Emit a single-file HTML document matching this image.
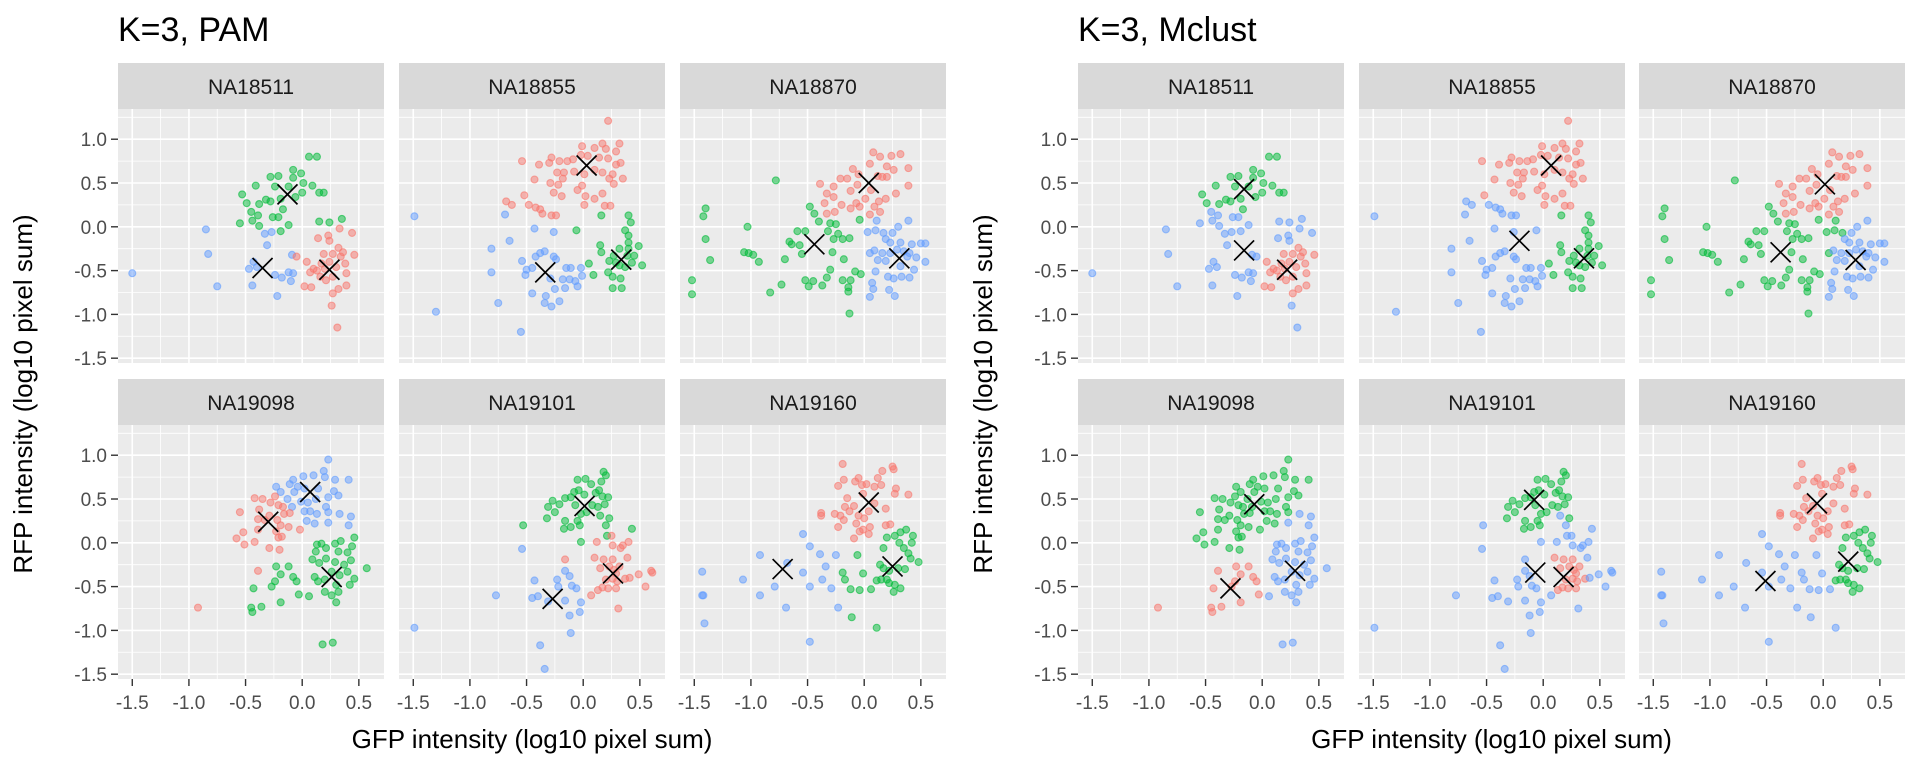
<!DOCTYPE html>
<html><head><meta charset="utf-8"><title>K=3 clustering</title>
<style>
html,body{margin:0;padding:0;background:#fff;}
svg{display:block;font-family:"Liberation Sans",Arial,sans-serif;}
</style></head>
<body>
<svg id="chart" width="1920" height="768" viewBox="0 0 1920 768" xmlns="http://www.w3.org/2000/svg"></svg>
<script>
// ---------- data ----------
const individuals = ["NA18511","NA18855","NA18870","NA19098","NA19101","NA19160"];
const xTicks = [-1.5,-1.0,-0.5,0.0,0.5];
const xTickLabels = ["-1.5","-1.0","-0.5","0.0","0.5"];
const yTicks = [-1.5,-1.0,-0.5,0.0,0.5,1.0];
const yTickLabels = ["-1.5","-1.0","-0.5","0.0","0.5","1.0"];
const xDomain = [-1.626,0.722];
const yDomain = [-1.555,1.345];

const pts_NA18511 = [
[-0.53,0.37],[-0.49,0.27],[-0.41,0.47],[-0.38,0.26],[-0.45,0.17],[-0.39,0.13],[-0.44,0.07],[-0.55,0.04],[-0.38,0.01],[-0.32,0.31],[-0.28,0.29],[-0.28,0.57],[-0.21,0.58],[-0.26,0.11],[-0.21,0.11],[-0.19,-0.05],[-0.12,0.02],[-0.17,0.20],[-0.19,0.32],[-0.08,0.65],[-0.08,0.56],[-0.01,0.61],[0.01,0.50],[0.00,0.39],[0.09,0.47],[0.06,0.80],[0.13,0.80],[0.15,0.39],[0.19,0.39],[0.15,0.06],[0.24,0.05],[0.35,0.09],[-0.06,0.34],[-0.12,0.46],[-0.24,0.46],
[-0.85,-0.03],[-0.83,-0.31],[-1.50,-0.53],[-0.75,-0.68],[-0.33,-0.08],[-0.27,-0.06],[-0.31,-0.21],[-0.43,-0.40],[-0.47,-0.48],[-0.44,-0.67],[-0.24,-0.55],[-0.18,-0.58],[-0.12,-0.52],[-0.08,-0.53],[-0.10,-0.62],[-0.22,-0.79],[-0.09,-0.32],[-0.40,-0.46],
[-0.05,-0.34],[0.04,-0.40],[0.02,-0.68],[0.08,-0.69],[0.10,-0.48],[0.14,-0.13],[0.23,-0.10],[0.24,-0.16],[0.33,-0.02],[0.44,-0.07],[0.46,-0.32],[0.19,-0.31],[0.17,-0.42],[0.24,-0.40],[0.27,-0.31],[0.32,-0.24],[0.36,-0.29],[0.38,-0.42],[0.39,-0.53],[0.39,-0.67],[0.27,-0.57],[0.21,-0.61],[0.27,-0.76],[0.32,-0.71],[0.26,-0.90],[0.31,-1.15],[0.13,-0.50],[0.07,-0.52],[0.16,-0.57],[0.20,-0.48],[0.30,-0.46],[0.34,-0.34]];
const pam_NA18511 = "ggggggggggggggggggggggggggggggggggg"+"bbbbbbbbbbbbbbbbbb"+"rrrrrrrrrrrrrrrrrrrrrrrrrrrrrrrr";
const mcl_NA18511 = "ggggbbbbbggggbbbbggggggggggggbbbggg"+"bbbbbbbbbbbbbbbbbb"+"brrrrbbbbbrrrrrrrrrrrrrrbbrrrrrr";
const pamCtr_NA18511 = [[0.24,-0.49],[-0.13,0.37],[-0.35,-0.47]];
const mclCtr_NA18511 = [[0.22,-0.49],[-0.16,0.43],[-0.16,-0.27]];

const pts_NA18855 = [
[0.22,1.21],[-0.01,0.92],[0.17,0.95],[0.32,0.95],[0.29,0.86],[0.10,0.90],[0.20,0.89],[-0.54,0.75],[-0.39,0.71],[-0.28,0.79],[-0.30,0.73],[-0.21,0.75],[-0.14,0.75],[-0.09,0.77],[-0.02,0.82],[0.04,0.81],[0.14,0.79],[0.22,0.78],[0.29,0.71],[0.33,0.73],[-0.23,0.62],[-0.17,0.62],[-0.18,0.55],[-0.08,0.63],[0.01,0.60],[0.10,0.65],[0.17,0.62],[0.26,0.60],[0.35,0.55],[0.23,0.55],[0.27,0.49],[-0.43,0.54],[-0.29,0.50],[-0.22,0.48],[-0.26,0.39],[-0.19,0.35],[-0.05,0.42],[-0.01,0.47],[0.02,0.35],[0.10,0.32],[0.17,0.38],[0.01,0.25],[0.19,0.24],[0.24,0.24],[-0.52,0.36],[-0.68,0.29],[-0.63,0.25],[-0.48,0.25],[-0.42,0.22],[-0.38,0.20],[-0.36,0.15],[-0.28,0.13],[-0.24,0.13],
[-1.49,0.12],[-1.30,-0.97],[-0.69,0.14],[-0.81,-0.25],[-0.65,-0.16],[-0.81,-0.52],[-0.75,-0.87],[-0.55,-1.20],[-0.43,-0.02],[-0.26,-0.06],[-0.54,-0.39],[-0.42,-0.34],[-0.38,-0.30],[-0.34,-0.28],[-0.26,-0.34],[-0.24,-0.37],[-0.50,-0.49],[-0.51,-0.55],[-0.45,-0.47],[-0.29,-0.59],[-0.15,-0.47],[-0.11,-0.47],[-0.02,-0.47],[-0.01,-0.56],[-0.18,-0.60],[-0.12,-0.60],[-0.07,-0.62],[-0.05,-0.68],[-0.25,-0.71],[-0.16,-0.70],[-0.45,-0.76],[-0.33,-0.79],[-0.34,-0.87],[-0.28,-0.91],[-0.21,-0.85],
[0.16,0.13],[-0.06,-0.04],[0.40,0.13],[0.42,0.05],[0.37,-0.04],[0.40,-0.10],[0.40,-0.18],[0.15,-0.21],[0.16,-0.29],[0.05,-0.42],[0.09,-0.55],[0.22,-0.52],[0.26,-0.57],[0.33,-0.59],[0.26,-0.70],[0.34,-0.70],[0.23,-0.39],[0.27,-0.33],[0.32,-0.25],[0.40,-0.25],[0.45,-0.33],[0.49,-0.22],[0.52,-0.44],[0.43,-0.41],[0.37,-0.46],[0.32,-0.44],[0.29,-0.41],[0.39,-0.33]];
const pam_NA18855 = "rrrrrrrrrrrrrrrrrrrrrrrrrrrrrrrrrrrrrrrrrrrrrrrrrrrrr"+"bbbbbbbbbbbbbbbbbbbbbbbbbbbbbbbbbbb"+"gggggggggggggggggggggggggggg";
const mcl_NA18855 = "rrrrrrrrrrrrrrrrrrrrrrrrrrrrrrrrrrrrrrrrrrrrrbbbbbbbb"+"bbbbbbbbbbbbbbbbbbbbbbbbbbbbbbbbbbb"+"gbgggggggggggggggggggggggggg";
const pamCtr_NA18855 = [[0.03,0.70],[0.336,-0.375],[-0.335,-0.52]];
const mclCtr_NA18855 = [[0.07,0.70],[0.36,-0.36],[-0.21,-0.16]];

const pts_NA18870 = [
[-0.39,0.49],[-0.27,0.46],[-0.21,0.55],[-0.15,0.55],[-0.10,0.66],[-0.05,0.60],[-0.33,0.38],[-0.27,0.34],[-0.35,0.27],[-0.33,0.15],[-0.26,0.17],[-0.20,0.25],[-0.12,0.41],[-0.07,0.27],[-0.12,0.21],[-0.04,0.23],[0.01,0.32],[0.05,0.14],[0.09,0.23],[0.14,0.17],[0.19,0.32],[0.13,0.29],[0.08,0.85],[0.14,0.80],[0.24,0.81],[0.32,0.83],[0.05,0.72],[0.20,0.69],[0.26,0.65],[0.39,0.67],[0.39,0.47],[0.28,0.38],[0.12,0.58],[0.16,0.57],[0.20,0.57],[-0.06,0.48],[0.06,0.42],
[-0.78,0.53],[-1.40,0.21],[-1.42,0.12],[-1.40,-0.14],[-1.36,-0.38],[-1.52,-0.61],[-1.52,-0.77],[-1.03,0.00],[-1.06,-0.29],[-1.02,-0.30],[-0.98,-0.32],[-0.93,-0.40],[-0.83,-0.75],[-0.73,-0.66],[-0.48,0.23],[-0.44,0.15],[-0.40,0.06],[-0.59,-0.05],[-0.52,-0.05],[-0.64,-0.20],[-0.66,-0.17],[-0.57,-0.21],[-0.55,-0.31],[-0.70,-0.37],[-0.52,-0.61],[-0.49,-0.68],[-0.45,-0.62],[-0.37,-0.67],[-0.33,-0.58],[-0.30,0.04],[-0.25,0.03],[-0.32,-0.05],[-0.23,-0.08],[-0.19,-0.14],[-0.13,-0.13],[-0.27,-0.14],[-0.28,-0.29],[-0.18,-0.37],[-0.30,-0.49],[-0.19,-0.61],[-0.12,-0.61],[-0.14,-0.69],[-0.14,-0.74],[-0.08,-0.51],[-0.03,-0.54],[-0.13,-0.99],[-0.04,0.08],[0.03,-0.06],[0.11,0.07],[0.10,-0.04],[0.17,-0.07],[0.05,-0.30],
[0.39,0.07],[0.30,0.00],[0.25,-0.07],[0.19,-0.14],[0.23,-0.18],[0.32,-0.18],[0.42,-0.20],[0.50,-0.19],[0.54,-0.19],[0.09,-0.27],[0.16,-0.30],[0.23,-0.30],[0.35,-0.28],[0.40,-0.30],[0.46,-0.35],[0.54,-0.40],[0.12,-0.38],[0.19,-0.39],[0.32,-0.45],[0.44,-0.49],[0.10,-0.51],[0.21,-0.57],[0.26,-0.59],[0.33,-0.57],[0.40,-0.58],[0.07,-0.64],[0.08,-0.71],[0.05,-0.80],[0.22,-0.72],[0.27,-0.79],[0.38,-0.34],[0.29,-0.26]];
const pam_NA18870 = "rrrrrrrrrrrrrrrrrrrrrrrrrrrrrrrrrrrrr"+"gggggggggggggggggggggggggggggggggggggggggggggggbbbbb"+"bbbbbbbbbbbbbbbbbbbbbbbbbbbbbbbb";
const mcl_NA18870 = "rrrrrrrrrrrrrrrrrrrrrrrrrrrrrrrrrrrrr"+"gggggggggggggggggggggggggggggggggggggggggggggggggggg"+"bbbbbbbbbbbbbbbbbbbbbbbbbbbbbbbb";
const pamCtr_NA18870 = [[0.04,0.50],[-0.44,-0.20],[0.31,-0.36]];
const mclCtr_NA18870 = [[0.015,0.485],[-0.376,-0.291],[0.286,-0.379]];

const pts_NA19098 = [
[0.23,0.95],[0.19,0.82],[0.41,0.72],[0.29,0.72],[0.20,0.75],[0.10,0.77],[0.01,0.76],[-0.08,0.72],[-0.11,0.67],[-0.23,0.64],[-0.19,0.58],[-0.04,0.64],[-0.07,0.58],[0.02,0.62],[0.14,0.62],[0.28,0.59],[0.32,0.54],[0.23,0.52],[-0.13,0.50],[-0.09,0.41],[-0.01,0.47],[0.05,0.46],[0.12,0.50],[0.21,0.41],[0.07,0.36],[0.13,0.33],[0.23,0.35],[0.33,0.33],[0.43,0.30],[0.04,0.25],[0.11,0.22],[0.23,0.23],[0.41,0.20],[0.02,0.36],
[-0.42,0.51],[-0.35,0.50],[-0.24,0.53],[-0.28,0.46],[-0.17,0.41],[-0.21,0.43],[-0.55,0.35],[-0.38,0.38],[-0.29,0.31],[-0.16,0.33],[-0.11,0.34],[-0.39,0.27],[-0.33,0.26],[-0.22,0.26],[-0.19,0.20],[-0.12,0.18],[-0.39,0.15],[-0.52,0.12],[-0.23,0.13],[-0.18,0.07],[-0.21,0.06],[-0.02,0.15],[-0.58,0.05],[-0.51,-0.02],[-0.42,0.01],[-0.29,-0.06],[-0.20,-0.08],[-0.39,-0.32],[-0.92,-0.74],
[0.46,0.06],[0.34,0.02],[0.44,-0.04],[0.17,-0.01],[0.13,-0.02],[0.21,-0.06],[0.29,-0.01],[0.32,-0.10],[0.40,-0.11],[0.12,-0.10],[0.09,-0.19],[0.15,-0.23],[0.21,-0.18],[0.29,-0.22],[0.37,-0.25],[0.43,-0.20],[0.57,-0.29],[-0.23,-0.27],[-0.12,-0.27],[-0.19,-0.36],[-0.08,-0.39],[-0.05,-0.44],[-0.24,-0.44],[-0.27,-0.50],[-0.43,-0.52],[0.11,-0.39],[0.14,-0.44],[0.20,-0.42],[0.26,-0.33],[0.33,-0.37],[0.40,-0.33],[0.46,-0.41],[0.42,-0.48],[0.30,-0.48],[0.20,-0.56],[0.26,-0.60],[0.32,-0.56],[-0.03,-0.59],[0.06,-0.61],[-0.19,-0.68],[-0.36,-0.73],[-0.45,-0.74],[-0.44,-0.79],[0.30,-0.68],[0.18,-1.16],[0.27,-1.14]];
const pam_NA19098 = "bbbbbbbbbbbbbbbbbbbbbbbbbbbbbbbbbb"+"rrrrrrrrrrrrrrrrrrrrrrrrrrrrr"+"gggggggggggggggggggggggggggggggggggggggggggggg";
const mcl_NA19098 = "ggggggggggggggggggggggggggg"+"bbggbbg"+"ggggggggggggggggggggggggggg"+"rr"+"bbbbbbbbbbbbbbbbb"+"rrrrrrrr"+"bbbbbbbbbbbb"+"r"+"b"+"rrrr"+"bbb";
const pamCtr_NA19098 = [[-0.30,0.24],[0.26,-0.39],[0.07,0.58]];
const mclCtr_NA19098 = [[-0.28,-0.52],[-0.07,0.44],[0.29,-0.32]];

const pts_NA19101 = [
[0.18,0.81],[0.20,0.77],[0.16,0.70],[-0.05,0.72],[0.02,0.73],[0.07,0.67],[-0.08,0.58],[-0.04,0.60],[-0.16,0.51],[-0.11,0.52],[0.01,0.55],[0.11,0.57],[0.14,0.60],[0.17,0.53],[0.22,0.52],[-0.27,0.48],[-0.21,0.44],[-0.31,0.41],[-0.25,0.35],[-0.32,0.28],[-0.07,0.43],[0.08,0.43],[0.13,0.41],[0.19,0.44],[-0.02,0.33],[0.03,0.35],[0.15,0.31],[0.23,0.28],[-0.16,0.25],[-0.05,0.25],[-0.11,0.18],[-0.17,0.16],[-0.03,0.20],[0.20,0.20],[-0.53,0.20],[0.43,0.16],[0.21,0.08],[-0.02,0.01],
[0.25,0.08],[0.12,0.01],[0.26,-0.03],[0.33,-0.06],[0.35,-0.03],[0.40,0.01],[-0.16,-0.19],[0.10,-0.17],[0.18,-0.19],[0.26,-0.19],[0.39,-0.17],[0.15,-0.29],[0.23,-0.27],[0.32,-0.27],[0.29,-0.35],[0.26,-0.41],[0.20,-0.42],[0.37,-0.41],[0.41,-0.40],[0.49,-0.36],[0.60,-0.32],[0.61,-0.34],[0.55,-0.50],[0.07,-0.60],[0.13,-0.54],[0.17,-0.51],[0.22,-0.52],[0.29,-0.52],[0.31,-0.75],[0.30,-0.44],[0.27,-0.31],
[-1.49,-0.97],[-0.77,-0.60],[-0.54,-0.07],[-0.43,-0.43],[-0.45,-0.63],[-0.40,-0.61],[-0.31,-0.67],[-0.23,-0.42],[-0.22,-0.50],[-0.16,-0.66],[-0.16,-0.32],[-0.12,-0.38],[-0.10,-0.49],[-0.06,-0.52],[-0.02,-0.68],[-0.03,-0.79],[-0.12,-0.83],[-0.11,-1.03],[-0.38,-1.17],[-0.34,-1.44]];
const pam_NA19101 = "gggggggggggggggggggggggggggggggggggggg"+"rrrrrrrrrrrrrrrrrrrrrrrrrrrrrrr"+"bbbbbbbbbbbbbbbbbbbb";
const mcl_NA19101 = "ggggggggggggggggggggggggggbggggggbbbbb"+"bbbbbbbrrrbrrrrrrrbbbbbbrrrrbrr"+"bbbbbbbbbbbbbbbbbbbb";
const pamCtr_NA19101 = [[0.263,-0.35],[0.012,0.42],[-0.27,-0.64]];
const mclCtr_NA19101 = [[0.18,-0.39],[-0.08,0.49],[-0.07,-0.34]];

const pts_NA19160 = [
[-0.19,0.90],[-0.18,0.72],[-0.23,0.65],[-0.08,0.70],[-0.05,0.74],[-0.02,0.66],[0.02,0.67],[0.09,0.64],[0.12,0.74],[0.15,0.66],[0.16,0.82],[0.25,0.87],[0.26,0.84],[0.28,0.62],[0.27,0.56],[0.39,0.55],[-0.15,0.51],[-0.17,0.41],[-0.09,0.42],[-0.13,0.36],[-0.01,0.56],[0.09,0.45],[0.04,0.36],[0.19,0.39],[-0.38,0.34],[-0.38,0.31],[-0.26,0.33],[-0.21,0.31],[-0.18,0.26],[-0.05,0.31],[0.00,0.28],[-0.07,0.22],[-0.23,0.18],[-0.01,0.15],[0.05,0.18],[-0.04,0.13],[0.04,0.10],[-0.09,0.05],[0.19,0.20],[0.23,0.21],
[0.20,0.06],[0.27,0.08],[0.32,0.12],[0.37,0.15],[0.43,0.08],[0.42,0.00],[0.31,0.00],[0.17,-0.06],[0.35,-0.06],[0.39,-0.12],[-0.06,-0.14],[0.14,-0.25],[0.17,-0.29],[0.22,-0.32],[0.30,-0.29],[0.36,-0.30],[0.41,-0.18],[0.48,-0.22],[-0.19,-0.34],[-0.01,-0.35],[-0.17,-0.42],[0.11,-0.43],[0.15,-0.42],[0.20,-0.42],[0.22,-0.46],[0.27,-0.48],[0.32,-0.52],[0.26,-0.56],[-0.12,-0.53],[-0.04,-0.54],[0.06,-0.53],[-0.11,-0.85],[0.11,-0.97],
[-1.43,-0.33],[-1.43,-0.60],[-1.42,-0.60],[-1.41,-0.92],[-1.07,-0.42],[-0.92,-0.14],[-0.92,-0.60],[-0.79,-0.50],[-0.69,-0.74],[-0.68,-0.23],[-0.54,0.10],[-0.48,-0.04],[-0.54,-0.34],[-0.48,-0.50],[-0.39,-0.13],[-0.34,-0.27],[-0.37,-0.42],[-0.29,-0.52],[-0.25,-0.14],[-0.23,-0.74],[-0.48,-1.13]];
const pam_NA19160 = "rrrrrrrrrrrrrrrrrrrrrrrrrrrrrrrrrrrrrrrr"+"ggggggggggggggggggggggggggggggggg"+"bbbbbbbbbbbbbbbbbbbbb";
const mcl_NA19160 = "rrrrrrrrrrrrrrrrrrrrrrrrrrrrrrrrrrrrrrrr"+"ggggggggggbgggggggbbbgggggggbbbbb"+"bbbbbbbbbbbbbbbbbbbbb";
const pamCtr_NA19160 = [[0.04,0.46],[0.25,-0.27],[-0.72,-0.30]];
const mclCtr_NA19160 = [[-0.055,0.45],[0.221,-0.215],[-0.51,-0.436]];

const DATA = {
 NA18511:{pts:pts_NA18511,pam:pam_NA18511,mcl:mcl_NA18511,pamCtr:pamCtr_NA18511,mclCtr:mclCtr_NA18511},
 NA18855:{pts:pts_NA18855,pam:pam_NA18855,mcl:mcl_NA18855,pamCtr:pamCtr_NA18855,mclCtr:mclCtr_NA18855},
 NA18870:{pts:pts_NA18870,pam:pam_NA18870,mcl:mcl_NA18870,pamCtr:pamCtr_NA18870,mclCtr:mclCtr_NA18870},
 NA19098:{pts:pts_NA19098,pam:pam_NA19098,mcl:mcl_NA19098,pamCtr:pamCtr_NA19098,mclCtr:mclCtr_NA19098},
 NA19101:{pts:pts_NA19101,pam:pam_NA19101,mcl:mcl_NA19101,pamCtr:pamCtr_NA19101,mclCtr:mclCtr_NA19101},
 NA19160:{pts:pts_NA19160,pam:pam_NA19160,mcl:mcl_NA19160,pamCtr:pamCtr_NA19160,mclCtr:mclCtr_NA19160}
};

// ---------- layout ----------
const NS = "http://www.w3.org/2000/svg";
const svg = document.getElementById('chart');
const COLORS = {r:"#F8766D", g:"#00BA38", b:"#619CFF"};
const PW = 266, PH = 254, STRIP = 46;
const rowTops = [63, 379];
const groups = [
  {title:"K=3, PAM", method:"pam", cols:[118,399,680], name:"pam"},
  {title:"K=3, Mclust", method:"mcl", cols:[1078,1359,1639], name:"mclust"}
];
function el(tag, attrs, parent){
  const e = document.createElementNS(NS, tag);
  for (const k in attrs) e.setAttribute(k, attrs[k]);
  (parent||svg).appendChild(e);
  return e;
}
function sx(v, x0){ return x0 + (v - xDomain[0]) / (xDomain[1]-xDomain[0]) * PW; }
function sy(v, y0){ return y0 + (yDomain[1] - v) / (yDomain[1]-yDomain[0]) * PH; }

groups.forEach(function(G){
  const gg = el('g', {});
  
  
  const t = el('text', {x:G.cols[0], y:41, 'font-size':34, fill:'#000'}, gg);
  t.textContent = G.title;
  
  

  individuals.forEach(function(ind, i){
    const row = Math.floor(i/3), col = i%3;
    const x0 = G.cols[col], st = rowTops[row], y0 = st + STRIP;
    const D = DATA[ind];
    const pg = el('g', {}, gg);
    
    
    const sr = el('rect', {x:x0, y:st, width:PW, height:STRIP, fill:'#d9d9d9'}, pg);
    
    
    const stt = el('text', {x:x0+PW/2, y:st+31, 'font-size':21, fill:'#1a1a1a', 'text-anchor':'middle'}, pg);
    stt.textContent = ind;
    
    
    const bg = el('rect', {x:x0, y:y0, width:PW, height:PH, fill:'#ebebeb'}, pg);
    
    
    const clipId = 'clip-' + G.name + '-' + ind;
    const cp = el('clipPath', {id:clipId}, pg);
    el('rect', {x:x0, y:y0, width:PW, height:PH}, cp);
    const grid = el('g', {'clip-path':'url(#'+clipId+')'}, pg);
    
    
    for (let k=0;k<xTicks.length-1;k++){
      const m = (xTicks[k]+xTicks[k+1])/2, X = sx(m,x0);
      el('line',{x1:X,x2:X,y1:y0,y2:y0+PH,stroke:'#fff','stroke-width':0.8},grid);
    }
    const yMinor = [];
    for (let k=0;k<yTicks.length-1;k++) yMinor.push((yTicks[k]+yTicks[k+1])/2);
    yMinor.push(yTicks[yTicks.length-1]+0.25);
    yMinor.forEach(function(m){ const Y=sy(m,y0);
      el('line',{x1:x0,x2:x0+PW,y1:Y,y2:Y,stroke:'#fff','stroke-width':0.8},grid); });
    xTicks.forEach(function(v){ const X=sx(v,x0);
      el('line',{x1:X,x2:X,y1:y0,y2:y0+PH,stroke:'#fff','stroke-width':1.6},grid); });
    yTicks.forEach(function(v){ const Y=sy(v,y0);
      el('line',{x1:x0,x2:x0+PW,y1:Y,y2:Y,stroke:'#fff','stroke-width':1.6},grid); });
    const labels = D[G.method];
    const ptg = el('g', {'clip-path':'url(#'+clipId+')'}, pg);
    
    
    D.pts.forEach(function(p, j){
      const c = COLORS[labels[j]] || COLORS.b;
      const circ = el('circle', {cx:sx(p[0],x0), cy:sy(p[1],y0), r:3.5, fill:c, 'fill-opacity':0.5, stroke:c, 'stroke-opacity':0.6, 'stroke-width':1.1}, ptg);
      
      
    });
    const ctrs = D[G.method + 'Ctr'];
    ctrs.forEach(function(c){
      const X=sx(c[0],x0), Y=sy(c[1],y0), s=10;
      const cg = el('g', {stroke:'#000','stroke-width':1.7}, pg);
      
      
      el('line',{x1:X-s,y1:Y-s,x2:X+s,y2:Y+s},cg);
      el('line',{x1:X-s,y1:Y+s,x2:X+s,y2:Y-s},cg);
    });
    if (col===0){
      const ya = el('g', {}, pg);
      
      
      yTicks.forEach(function(v, k){
        const Y=sy(v,y0);
        el('line',{x1:x0-7,x2:x0,y1:Y,y2:Y,stroke:'#333','stroke-width':1.4},ya);
        const tl = el('text',{x:x0-11,y:Y+7,'font-size':19,fill:'#4d4d4d','text-anchor':'end'},ya);
        tl.textContent = yTickLabels[k];
        
        
      });
    }
    if (row===1){
      const xa = el('g', {}, pg);
      
      
      xTicks.forEach(function(v, k){
        const X=sx(v,x0);
        el('line',{x1:X,x2:X,y1:y0+PH,y2:y0+PH+7,stroke:'#333','stroke-width':1.4},xa);
        const tl = el('text',{x:X,y:y0+PH+30,'font-size':19,fill:'#4d4d4d','text-anchor':'middle'},xa);
        tl.textContent = xTickLabels[k];
        
        
      });
    }
  });
  const xt = el('text', {x:(G.cols[0]+G.cols[2]+PW)/2, y:748, 'font-size':26, fill:'#000', 'text-anchor':'middle'}, gg);
  xt.textContent = "GFP intensity (log10 pixel sum)";
  
  
  const yx = G.cols[0] - 86, yc = (rowTops[0]+STRIP + rowTops[1]+STRIP+PH)/2;
  const yt = el('text', {x:yx, y:yc, 'font-size':26, fill:'#000', 'text-anchor':'middle', transform:'rotate(-90 '+yx+' '+yc+')'}, gg);
  yt.textContent = "RFP intensity (log10 pixel sum)";
  
  
});
</script>
</body></html>
